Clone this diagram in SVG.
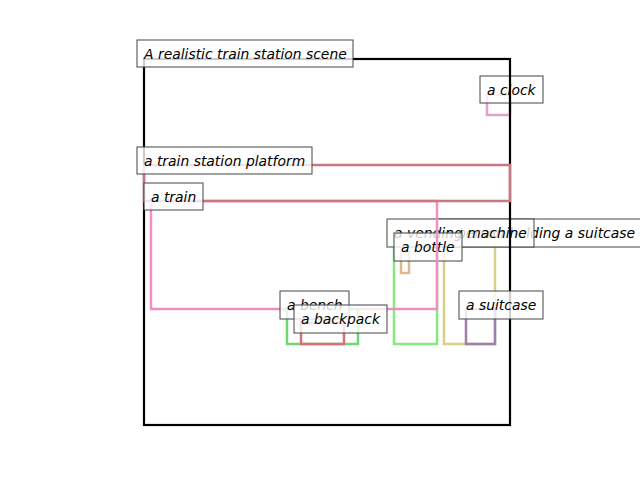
<svg xmlns="http://www.w3.org/2000/svg" width="640" height="480" viewBox="0 0 640 480">
<style>
.box{fill:none;stroke-width:2.5}
.lb rect{fill:#ffffff;fill-opacity:0.8;stroke:#444444;stroke-width:1}
.lb text{font-family:"DejaVu Sans",sans-serif;font-style:italic;font-size:13.9px;fill:#000000}
</style>
<rect width="640" height="480" fill="#ffffff"/>
<g id="clock">
<rect class="box" x="487" y="95" width="23" height="20" stroke="#e0a0d0"/>
<g class="lb"><rect x="480" y="76" width="63" height="27"/><text x="487" y="95">a clock</text></g>
</g>
<g id="person">
<rect class="box" x="444" y="233" width="51" height="111" stroke="#d8d088"/>
<g class="lb"><rect x="437" y="219" width="206" height="28"/><text x="444" y="238">a person holding a suitcase</text></g>
</g>
<g id="vending-machine">
<rect class="box" x="394" y="233" width="43" height="111" stroke="#88e880"/>
<g class="lb"><rect x="387" y="219" width="147" height="28"/><text x="394" y="238">a vending machine</text></g>
</g>
<g id="bottle">
<rect class="box" x="401" y="252" width="8" height="21" stroke="#e0b890"/>
<g class="lb"><rect x="394" y="233" width="68" height="28"/><text x="401" y="252">a bottle</text></g>
</g>
<g id="scene">
<rect x="144" y="59" width="366" height="366" fill="none" stroke="#000000" stroke-width="2.2"/>
<g class="lb"><rect x="137" y="40" width="216" height="27"/><text x="144" y="59">A realistic train station scene</text></g>
</g>
<g id="train">
<rect class="box" x="151" y="201" width="286" height="108" stroke="#f090c0"/>
</g>
<g id="platform">
<rect class="box" x="144" y="165" width="366" height="36" stroke="#c87880"/>
<g class="lb"><rect x="137" y="147" width="175" height="27"/><text x="144" y="166">a train station platform</text></g>
</g>
<g id="train-label" class="lb"><rect x="144" y="183" width="59" height="27"/><text x="151" y="202">a train</text></g>
<g id="bench">
<rect class="box" x="287" y="309" width="71" height="35" stroke="#70d870"/>
<g class="lb"><rect x="280" y="291" width="69" height="28"/><text x="287" y="310">a bench</text></g>
</g>
<g id="backpack">
<rect class="box" x="301" y="323" width="43" height="21" stroke="#d87078"/>
<g class="lb"><rect x="294" y="305" width="93" height="28"/><text x="301" y="324">a backpack</text></g>
</g>
<g id="suitcase">
<rect class="box" x="466" y="309" width="29" height="35" stroke="#a080a8"/>
<g class="lb"><rect x="459" y="291" width="84" height="28"/><text x="466" y="310">a suitcase</text></g>
</g>
<g id="connectors"/>
</svg>
